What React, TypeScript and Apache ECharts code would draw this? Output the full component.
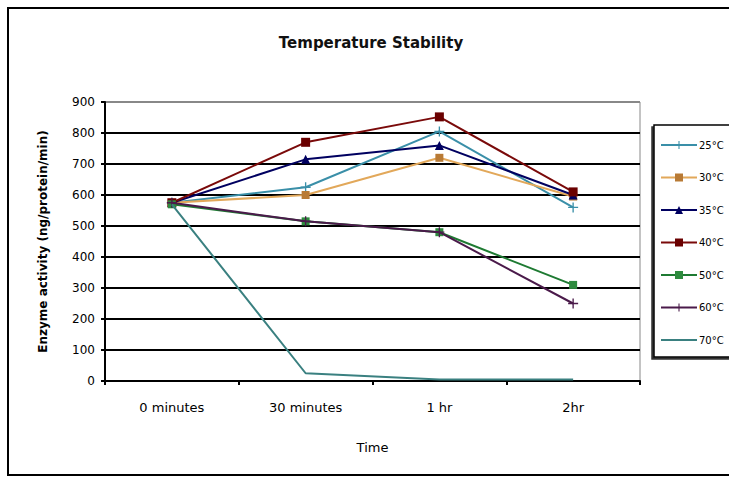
import React, { useEffect, useRef } from "react";
import * as echarts from "echarts";

const categories = ["0 minutes", "30 minutes", "1 hr", "2hr"];
const seriesNames = ["25°C", "30°C", "35°C", "40°C", "50°C", "60°C", "70°C"];
const s25 = [575, 625, 805, 560];
const s30 = [575, 600, 720, 595];
const s35 = [575, 715, 760, 600];
const s40 = [575, 770, 852, 610];
const s50 = [570, 515, 480, 310];
const s60 = [575, 515, 480, 250];
const s70 = [570, 25, 5, 5];
const yTicks = { min: 0, max: 900, interval: 100 };

const FONT = "DejaVu Sans";
const PLUS = "path://M-0.8,-6 H0.8 V-0.8 H6 V0.8 H0.8 V6 H-0.8 V0.8 H-6 V-0.8 H-0.8 Z";

export default function App() {
  const ref = useRef<HTMLDivElement>(null);
  useEffect(() => {
    if (!ref.current) return;
    const chart = echarts.init(ref.current, null, { renderer: "svg" });
    const data = [s25, s30, s35, s40, s50, s60, s70];
    const styles = [
      { color: "#3A8FA8", symbol: PLUS, size: 10 },
      { color: "#E2A85A", symbol: "rect", size: 8, mcolor: "#B87A35" },
      { color: "#000060", symbol: "triangle", size: 9 },
      { color: "#7A0A0A", symbol: "rect", size: 9, mcolor: "#6A0000" },
      { color: "#1E7A32", symbol: "rect", size: 8, mcolor: "#2E8B3E" },
      { color: "#4A1A4A", symbol: PLUS, size: 10 },
      { color: "#3A8080", symbol: "none", size: 0 },
    ];
    const splitColors = Array(9).fill("#000").concat(["#888"]);
    chart.setOption({
      animation: false,
      backgroundColor: "#fff",
      textStyle: { fontFamily: FONT, color: "#000" },
      title: {
        text: "Temperature Stability",
        left: 366,
        top: 30,
        textAlign: "center",
        textStyle: { fontFamily: FONT, fontSize: 15, fontWeight: "bold", color: "#111" },
      },
      graphic: [
        {
          type: "rect",
          shape: { x: 8, y: 8, width: 800, height: 467 },
          style: { fill: "none", stroke: "#000", lineWidth: 2 },
          silent: true,
        },
      ],
      legend: {
        orient: "vertical",
        left: 654,
        top: 125,
        padding: [15, 8, 12, 6],
        itemGap: 22.5,
        itemWidth: 36,
        itemHeight: 10,
        borderColor: "#000",
        borderWidth: 1.5,
        backgroundColor: "#fff",
        shadowColor: "#333",
        shadowOffsetX: -2,
        shadowOffsetY: 2,
        shadowBlur: 0,
        textStyle: { fontFamily: FONT, fontSize: 10, lineHeight: 10, color: "#000", padding: [0, 0, 0, -3] },
        data: seriesNames.map((n, i) =>
          i === 6 ? { name: n, itemStyle: { opacity: 0 } } : { name: n }
        ),
      },
      grid: {
        left: 105,
        right: 89,
        top: 102,
        bottom: 96,
        show: true,
        borderColor: "#888",
        borderWidth: 1,
      },
      xAxis: {
        type: "category",
        data: categories,
        boundaryGap: true,
        name: "Time",
        nameLocation: "middle",
        nameGap: 60,
        nameTextStyle: { fontFamily: FONT, fontSize: 13, color: "#000" },
        axisLine: { lineStyle: { color: "#000", width: 2 } },
        axisTick: { show: true, length: 4, lineStyle: { color: "#000", width: 2 } },
        axisLabel: { fontFamily: FONT, fontSize: 13, color: "#000", margin: 20 },
      },
      yAxis: {
        type: "value",
        min: yTicks.min,
        max: yTicks.max,
        interval: yTicks.interval,
        name: "Enzyme activity (ng/protein/min)",
        nameLocation: "middle",
        nameGap: 56,
        nameTextStyle: { fontFamily: FONT, fontSize: 12, fontWeight: "bold", color: "#000" },
        axisLine: { show: true, lineStyle: { color: "#000", width: 2 } },
        axisTick: { show: true, length: 4, lineStyle: { color: "#000", width: 2 } },
        axisLabel: { fontFamily: FONT, fontSize: 12, color: "#000", margin: 10 },
        splitLine: { show: true, lineStyle: { color: splitColors, width: 2 } },
      },
      series: data.map((d, i) => ({
        name: seriesNames[i],
        type: "line",
        data: d,
        symbol: styles[i].symbol,
        symbolSize: styles[i].size,
        showSymbol: styles[i].symbol !== "none",
        lineStyle: { color: styles[i].color, width: 2 },
        itemStyle: { color: styles[i].mcolor || styles[i].color },
        color: styles[i].color,
        z: 3 + i,
      })),
    });
    return () => chart.dispose();
  }, []);
  return (
    <div
      ref={ref}
      style={{ position: "fixed", left: 0, top: 0, width: 729, height: 477 }}
    />
  );
}
